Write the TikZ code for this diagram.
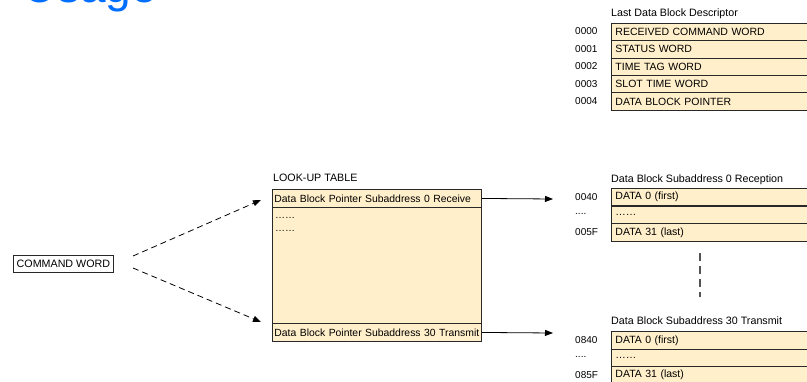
\documentclass[tikz,border=0pt]{standalone}
\usepackage{fontspec}
\setmainfont{Liberation Sans}
\usetikzlibrary{arrows.meta}
\definecolor{beige}{RGB}{255,239,202}
\definecolor{rowline}{RGB}{40,40,40}
\definecolor{titleblue}{RGB}{0,110,255}
\begin{document}
\begin{tikzpicture}[x=1pt,y=-1pt,
  row/.style={draw=rowline,fill=beige,line width=0.9pt,anchor=north west,
    minimum height=17.4pt,text width=214pt,inner xsep=4pt,inner ysep=0pt,
    align=left,font=\fontsize{10.5}{12}\selectfont},
  lutrow/.style={draw=rowline,fill=beige,line width=0.9pt,anchor=north west,
    minimum height=18pt,text width=205pt,inner xsep=2pt,inner ysep=0pt,
    align=left,font=\fontsize{10.4}{12}\selectfont},
  addr/.style={anchor=west,inner sep=0pt,font=\fontsize{10}{12}\selectfont},
  ttl/.style={anchor=west,inner sep=0pt,font=\fontsize{10.7}{12}\selectfont},
  arr/.style={line width=0.8pt,-{Triangle[length=8pt,width=6pt]}},
  darr/.style={line width=0.8pt,dash pattern=on 6pt off 4pt,-{Triangle[length=8pt,width=6pt]}}
]
\useasboundingbox (0,0) rectangle (807,381);

% cropped title
\node[anchor=base east,inner sep=0pt,text=titleblue,font=\fontsize{46}{50}\selectfont] (title) at (157,2.5) {Usage};

% Last Data Block Descriptor
\node[ttl] (tdesc) at (611,14) {Last Data Block Descriptor};
\node[row] (d0) at (611,22.7) {RECEIVED COMMAND WORD};
\node[row] (d1) at (611,40.1) {STATUS WORD};
\node[row] (d2) at (611,57.5) {TIME TAG WORD};
\node[row] (d3) at (611,74.9) {SLOT TIME WORD};
\node[row] (d4) at (611,92.3) {DATA BLOCK POINTER};
\node[addr] (a0) at (575,31.4) {0000};
\node[addr] (a1) at (575,48.8) {0001};
\node[addr] (a2) at (575,66.2) {0002};
\node[addr] (a3) at (575,83.6) {0003};
\node[addr] (a4) at (575,101) {0004};

% Look-up table
\node[ttl] (tlut) at (273,178) {LOOK-UP TABLE};
\node[draw=rowline,fill=beige,line width=0.9pt,anchor=north west,minimum width=209pt,minimum height=116pt,inner sep=0pt] (lutbody) at (272,207) {};
\node[lutrow] (lut0) at (272,189) {Data Block Pointer Subaddress 0 Receive};
\node[lutrow] (lut30) at (272,323) {Data Block Pointer Subaddress 30 Transmit};
\node[addr] (dots1) at (275,218) {……};
\node[addr] (dots2) at (275,231) {……};

% Command word
\node[draw=rowline,line width=0.8pt,fill=white,anchor=north west,minimum width=100pt,minimum height=17pt,inner sep=0pt,font=\fontsize{10.7}{12}\selectfont] (cmd) at (13,254.5) {COMMAND WORD};
\coordinate (c1) at (133,256);
\coordinate (e1) at (261,200);
\coordinate (c2) at (133,268);
\coordinate (e2) at (261,322);
\draw[darr] (c1) -- (e1);
\draw[darr] (c2) -- (e2);

% Data Block Subaddress 0 Reception
\node[ttl] (tr0) at (611,180) {Data Block Subaddress 0 Reception};
\node[row] (r0) at (611,188) {DATA 0 (first)};
\node[row] (r1) at (611,205.7) {……};
\node[row] (r2) at (611,223.4) {DATA 31 (last)};
\node[addr] (ra0) at (575,196.7) {0040};
\node[addr] (ra1) at (575,214.4) {....};
\node[addr] (ra2) at (575,232.1) {005F};

% vertical dashed link
\coordinate (v1) at (700,253);
\coordinate (v2) at (700,297);
\draw[rowline!80,line width=1.2pt,dash pattern=on 8pt off 5pt] (v1) -- (v2);

% Data Block Subaddress 30 Transmit
\node[ttl] (tt30) at (611,321) {Data Block Subaddress 30 Transmit};
\node[row] (t0) at (611,331.2) {DATA 0 (first)};
\node[row] (t1) at (611,348.6) {……};
\node[row] (t2) at (611,366) {DATA 31 (last)};
\node[addr] (ta0) at (575,339.9) {0840};
\node[addr] (ta1) at (575,357.3) {....};
\node[addr] (ta2) at (575,374.7) {085F};

% pointer arrows
\coordinate (p0) at (553,199);
\coordinate (p30) at (553,333);
\draw[arr] (lut0.east) -- (p0);
\draw[arr] (lut30.east) -- (p30);
\end{tikzpicture}
\end{document}
